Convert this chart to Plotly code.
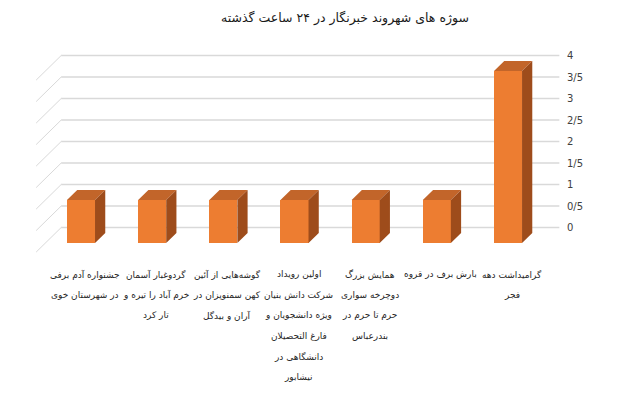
import plotly.graph_objects as go

# ---------------- data ----------------
title_text = "سوژه های شهروند خبرنگار در ۲۴ ساعت گذشته"
categories = [
    ["گرامیداشت دهه", "فجر"],
    ["بارش برف در قروه"],
    ["همایش بزرگ", "دوچرخه سواری", "حرم تا حرم در", "بندرعباس"],
    ["اولین رویداد", "شرکت دانش بنیان", "ویژه دانشجویان و", "فارغ التحصیلان", "دانشگاهی در", "نیشابور"],
    ["گوشه‌هایی از آئین", "کهن سمنوپزان در", "آران و بیدگل"],
    ["گردوغبار آسمان", "خرم آباد را تیره و", "تار کرد"],
    ["جشنواره آدم برفی", "در شهرستان خوی"],
]
values = [4, 1, 1, 1, 1, 1, 1]
tick_vals = [0, 0.5, 1, 1.5, 2, 2.5, 3, 3.5, 4]
tick_text = ["0", "0/5", "1", "1/5", "2", "2/5", "3", "3/5", "4"]

# ---------------- geometry (pseudo 3D) ----------------
n = len(categories)
pos = [n - 1 - k for k in range(n)]          # right-to-left category order
half_w = 0.197                               # half bar width (category units)
DX, DY = 0.351, 0.570                        # full floor depth vector in data units
D_FRONT, D_BACK = 0.37, 0.78                 # bar depth positions within floor
X_MIN, X_MAX = -0.5, n - 0.5


def proj(x, v, d):
    return x + (d - D_FRONT) * DX, v + (d - D_FRONT) * DY


FRONT = "#ED7D31"
TOP = "#C2652A"
SIDE = "#9E4C1B"
GRID = "#D9D9D9"
TXT = "#262626"
FONT = "DejaVu Sans"

fig = go.Figure()

# front faces
fig.add_trace(go.Bar(x=pos, y=values, width=2 * half_w, marker=dict(color=FRONT, line=dict(width=0)),
                     hoverinfo="skip", showlegend=False))

# top and side faces
tx, ty, sx, sy = [], [], [], []
for p, v in zip(pos, values):
    pts = [proj(p - half_w, v, D_FRONT), proj(p + half_w, v, D_FRONT),
           proj(p + half_w, v, D_BACK), proj(p - half_w, v, D_BACK), proj(p - half_w, v, D_FRONT)]
    tx += [q[0] for q in pts] + [None]
    ty += [q[1] for q in pts] + [None]
    pts = [proj(p + half_w, 0, D_FRONT), proj(p + half_w, v, D_FRONT),
           proj(p + half_w, v, D_BACK), proj(p + half_w, 0, D_BACK), proj(p + half_w, 0, D_FRONT)]
    sx += [q[0] for q in pts] + [None]
    sy += [q[1] for q in pts] + [None]
fig.add_trace(go.Scatter(x=tx, y=ty, fill="toself", fillcolor=TOP, mode="lines",
                         line=dict(width=0, color=TOP), hoverinfo="skip", showlegend=False))
fig.add_trace(go.Scatter(x=sx, y=sy, fill="toself", fillcolor=SIDE, mode="lines",
                         line=dict(width=0, color=SIDE), hoverinfo="skip", showlegend=False))

# back wall gridlines + side wall lines (below traces)
for t, lab in zip(tick_vals, tick_text):
    x0, y0 = proj(X_MIN, t, 1.0)
    x1, y1 = proj(X_MAX, t, 1.0)
    fig.add_shape(type="line", xref="x", yref="y", x0=x0, y0=y0, x1=x1, y1=y1,
                  line=dict(color=GRID, width=1.5), layer="below")
    fx, fy = proj(X_MIN, t, 0.0)
    fig.add_shape(type="line", xref="x", yref="y", x0=fx, y0=fy, x1=x0, y1=y0,
                  line=dict(color=GRID, width=1), layer="below")
    fig.add_annotation(x=x1, y=y1, xref="x", yref="y", text=lab, showarrow=False,
                       xanchor="left", yanchor="middle", xshift=6,
                       font=dict(family=FONT, size=10, color="#404040"))

# category labels
for p, lines in zip(pos, categories):
    for j, line in enumerate(lines):
        fig.add_annotation(x=p, y=0, xref="x", yref="y", text=line, showarrow=False,
                           xanchor="center", yanchor="middle", xshift=4, yshift=-31 - 20.5 * j,
                           font=dict(family=FONT, size=9, color=TXT))

fig.update_layout(
    width=620, height=420,
    margin=dict(l=0, r=0, t=0, b=0),
    paper_bgcolor="white", plot_bgcolor="white",
    title=dict(text=title_text, x=345 / 620, xanchor="center", y=1 - 18 / 420,
               yanchor="middle", font=dict(family=FONT, size=12.5, color="#1a1a1a")),
    xaxis=dict(range=[-81 / 71.17, (620 - 81) / 71.17], visible=False, fixedrange=True),
    yaxis=dict(range=[(243 - 420) / 43, 243 / 43], visible=False, fixedrange=True),
    bargap=0,
    showlegend=False,
)

fig.write_html("out.html")
